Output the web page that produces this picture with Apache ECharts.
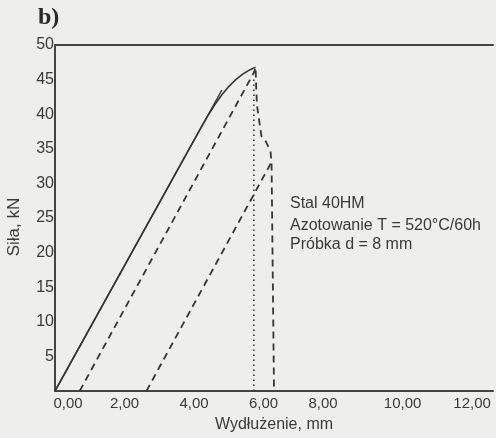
<!DOCTYPE html>
<html>
<head>
<meta charset="utf-8">
<script src="https://cdn.jsdelivr.net/npm/echarts@6/dist/echarts.min.js"></script>
<style>
  html, body { margin: 0; padding: 0; background: #eeeeec; }
  #chart { width: 496px; height: 438px; }
</style>
</head>
<body>
<div id="chart"></div>
<script>
// Tensile test of nitrided 40HM steel: force vs. elongation
const xTicks = [0, 2, 4, 6, 8, 10, 12];
const yTicks = [5, 10, 15, 20, 25, 30, 35, 40, 45, 50];

// loading curve up to the maximum force (solid)
const loadCurve = [[0, 0], [4.2, 38.05], [4.4, 39.8], [4.6, 41.4], [4.8, 42.8], [5.0, 44.0],
                   [5.2, 45.0], [5.4, 45.8], [5.6, 46.4], [5.77, 46.8]];
// straight elastic line (solid, short extension past the bend)
const elasticLine = [[0, 0], [4.8, 43.5]];
// first unloading/reloading line and the drop after fracture (dashed)
const reloadDrop = [[0.71, 0], [5.72, 46.0], [5.77, 46.8], [5.79, 43.6], [5.81, 41.3], [5.89, 38.5],
                    [5.94, 36.8], [6.06, 36.1], [6.2, 34.6], [6.23, 32.8], [6.3, 0]];
// second unloading line (dashed)
const secondUnload = [[2.63, 0], [6.22, 33.0]];
// vertical marker at the maximum (dotted)
const peakMarker = [[5.72, 45.0], [5.72, 0]];

const ink = '#353535';
const textInk = '#3a3a3a';
const font = "'Liberation Sans', Arial, sans-serif";

const chart = echarts.init(document.getElementById('chart'), null, { renderer: 'canvas' });

function lineSeries(data, width, dash) {
  return {
    type: 'line',
    data: data,
    showSymbol: false,
    symbol: 'none',
    smooth: false,
    animation: false,
    silent: true,
    lineStyle: { color: ink, width: width, type: dash, cap: 'butt' }
  };
}

// tick label text, with a small offset kept for the first and the 8 mm labels
function xLabel(v) {
  if (xTicks.indexOf(v) < 0) return '';
  const s = v.toFixed(2).replace('.', ',');
  if (v === 0) return '{r|' + s + '}';
  if (v === 8) return '{l|' + s + '}';
  return s;
}

chart.setOption({
  backgroundColor: '#eeeeec',
  animation: false,
  grid: { left: 55, right: 0, top: 45, bottom: 46, containLabel: false },
  xAxis: [{
    type: 'value',
    min: 0,
    max: 12.6,
    interval: 2,
    name: 'Wydłużenie, mm',
    nameLocation: 'middle',
    nameGap: 26,
    nameTextStyle: { fontFamily: font, fontSize: 16, color: textInk },
    axisLine: { show: true, lineStyle: { color: '#444', width: 2 } },
    axisTick: { show: false },
    splitLine: { show: false },
    axisLabel: {
      margin: 5,
      fontFamily: font, fontSize: 15, color: textInk,
      formatter: xLabel,
      rich: {
        r: { fontFamily: font, fontSize: 15, color: textInk, padding: [0, 0, 0, 26] },
        l: { fontFamily: font, fontSize: 15, color: textInk, padding: [0, 20, 0, 0] }
      }
    }
  }, {
    type: 'value',
    position: 'top',
    min: 0,
    max: 12.6,
    axisLine: { show: true, onZero: false, lineStyle: { color: '#444', width: 2 } },
    axisTick: { show: false },
    axisLabel: { show: false },
    splitLine: { show: false }
  }],
  yAxis: {
    type: 'value',
    min: 0,
    max: 50,
    interval: 5,
    axisLine: { show: true, lineStyle: { color: '#444', width: 2 } },
    axisTick: { show: false },
    splitLine: { show: false },
    axisLabel: {
      margin: 1,
      fontFamily: font, fontSize: 16, color: textInk,
      formatter: v => (yTicks.indexOf(v) >= 0 ? String(v) : '')
    }
  },
  series: [
    lineSeries(loadCurve, 1.6, 'solid'),
    lineSeries(elasticLine, 1.4, 'solid'),
    lineSeries(reloadDrop, 1.8, [7, 5]),
    lineSeries(secondUnload, 1.8, [7, 5]),
    lineSeries(peakMarker, 1.6, [1.5, 3.5])
  ],
  graphic: [
    { type: 'text', left: 38, top: 6, silent: true,
      style: { text: 'b)', font: "bold 24px 'Liberation Serif', 'Times New Roman', serif", fill: '#2a2a2a' } },
    { type: 'text', x: 14, y: 227, rotation: Math.PI / 2, silent: true,
      style: { text: 'Siła, kN', font: '17px ' + font, fill: textInk, align: 'center', verticalAlign: 'middle' } },
    { type: 'text', left: 290, top: 196, silent: true,
      style: { text: 'Stal 40HM', font: '16px ' + font, fill: textInk } },
    { type: 'text', left: 290, top: 218, silent: true,
      style: { text: 'Azotowanie T = 520°C/60h', font: '16px ' + font, fill: textInk } },
    { type: 'text', left: 290, top: 237, silent: true,
      style: { text: 'Próbka d = 8 mm', font: '16px ' + font, fill: textInk } }
  ]
});
</script>
</body>
</html>
